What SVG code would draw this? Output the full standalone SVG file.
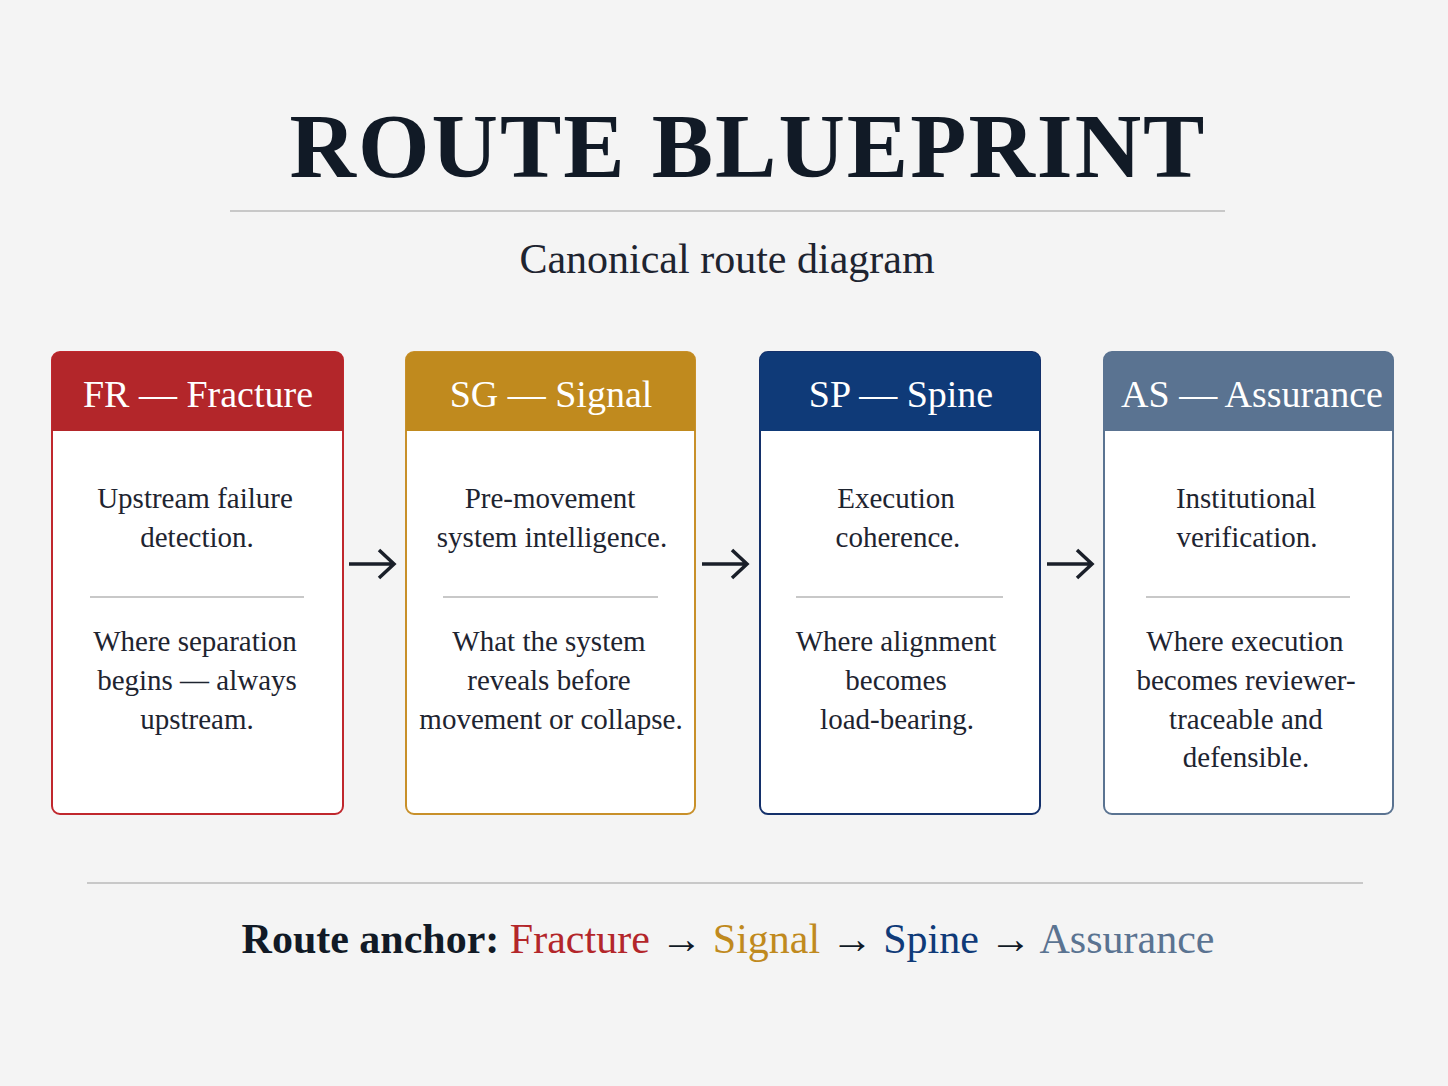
<svg xmlns="http://www.w3.org/2000/svg" width="1448" height="1086" viewBox="0 0 1448 1086">
<style>
.s{font-family:"Liberation Serif","DejaVu Serif",serif;}
.h{font-size:38px;fill:#fff;text-anchor:middle;}
.b{font-size:29px;fill:#1e2430;text-anchor:middle;}
.rule{stroke:#c8c8c8;stroke-width:2;}
.arr{stroke:#1a1f29;stroke-width:3.5;fill:none;}
</style>
<rect width="1448" height="1086" fill="#f4f4f4"/>
<text class="s" x="748" y="177" font-size="92" font-weight="bold" fill="#111a26" text-anchor="middle" letter-spacing="2">ROUTE BLUEPRINT</text>
<line class="rule" x1="230" y1="211" x2="1225" y2="211"/>
<text class="s" x="727" y="273" font-size="42" fill="#1e2430" text-anchor="middle">Canonical route diagram</text>
<g id="FR">
<rect x="52" y="352" width="291" height="462" rx="8" fill="#fff" stroke="#c0272d" stroke-width="2"/>
<path d="M52 360a8 8 0 0 1 8-8h275a8 8 0 0 1 8 8v71H52z" fill="#b3262a"/>
<text class="s h" x="198" y="407">FR — Fracture</text>
<text class="s b" x="195" y="508">Upstream failure</text><text class="s b" x="197" y="547">detection.</text>
<line class="rule" x1="90" y1="597" x2="304" y2="597"/>
<text class="s b" x="195" y="651">Where separation</text><text class="s b" x="197" y="690">begins — always</text><text class="s b" x="197" y="729">upstream.</text>
</g>
<g id="SG">
<rect x="406" y="352" width="289" height="462" rx="8" fill="#fff" stroke="#c8902a" stroke-width="2"/>
<path d="M406 360a8 8 0 0 1 8-8h273a8 8 0 0 1 8 8v71H406z" fill="#c08a1e"/>
<text class="s h" x="551" y="407">SG — Signal</text>
<text class="s b" x="550" y="508">Pre-movement</text><text class="s b" x="552" y="547">system intelligence.</text>
<line class="rule" x1="443" y1="597" x2="658" y2="597"/>
<text class="s b" x="549" y="651">What the system</text><text class="s b" x="549" y="690">reveals before</text><text class="s b" x="551" y="729">movement or collapse.</text>
</g>
<g id="SP">
<rect x="760" y="352" width="280" height="462" rx="8" fill="#fff" stroke="#14306a" stroke-width="2"/>
<path d="M760 360a8 8 0 0 1 8-8h264a8 8 0 0 1 8 8v71H760z" fill="#0f3a78"/>
<text class="s h" x="901" y="407">SP — Spine</text>
<text class="s b" x="896" y="508">Execution</text><text class="s b" x="898" y="547">coherence.</text>
<line class="rule" x1="796" y1="597" x2="1003" y2="597"/>
<text class="s b" x="896" y="651">Where alignment</text><text class="s b" x="896" y="690">becomes</text><text class="s b" x="897" y="729">load-bearing.</text>
</g>
<g id="AS">
<rect x="1104" y="352" width="289" height="462" rx="8" fill="#fff" stroke="#5a7391" stroke-width="2"/>
<path d="M1104 360a8 8 0 0 1 8-8h273a8 8 0 0 1 8 8v71H1104z" fill="#5a7391"/>
<text class="s h" x="1252" y="407">AS — Assurance</text>
<text class="s b" x="1246" y="508">Institutional</text><text class="s b" x="1247" y="547">verification.</text>
<line class="rule" x1="1146" y1="597" x2="1350" y2="597"/>
<text class="s b" x="1245" y="651">Where execution</text><text class="s b" x="1246" y="690">becomes reviewer-</text><text class="s b" x="1246" y="729">traceable and</text><text class="s b" x="1246" y="767">defensible.</text>
</g>
<g id="connectors">
<path class="arr" d="M349 564H393M379 550L394 564L379 578"/>
<path class="arr" d="M702 564H746M732 550L747 564L732 578"/>
<path class="arr" d="M1047 564H1091M1077 550L1092 564L1077 578"/>
</g>
<line class="rule" x1="87" y1="883" x2="1363" y2="883"/>
<text class="s" x="728" y="953" font-size="42" text-anchor="middle" fill="#111a26"><tspan font-weight="bold">Route anchor: </tspan><tspan fill="#b3262a">Fracture</tspan> <tspan>→</tspan> <tspan fill="#c08a1e">Signal</tspan> <tspan>→</tspan> <tspan fill="#0f3a78">Spine</tspan> <tspan>→</tspan> <tspan fill="#5a7391">Assurance</tspan></text>
</svg>
